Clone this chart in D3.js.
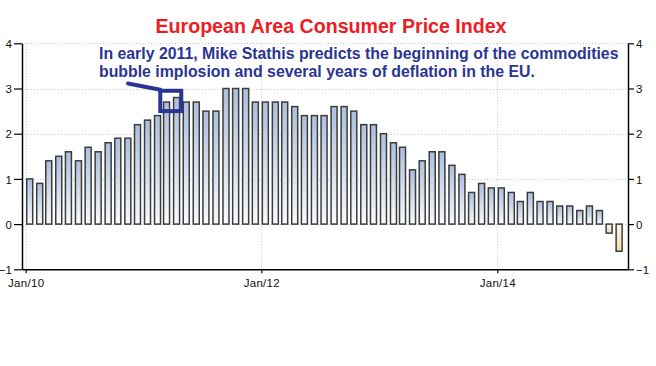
<!DOCTYPE html>
<html>
<head>
<meta charset="utf-8">
<script src="https://cdn.jsdelivr.net/npm/d3@7"></script>
<style>
  html, body { margin: 0; padding: 0; background: #fff; }
  svg { display: block; }
</style>
</head>
<body>
<svg id="chart" width="656" height="366"></svg>
<script>
// ---- data ----
const startMonth = "2010-01";
const cpiValues = [
  1.0, 0.9, 1.4, 1.5, 1.6, 1.4, 1.7, 1.6, 1.8, 1.9, 1.9, 2.2,   // 2010
  2.3, 2.4, 2.7, 2.8, 2.7, 2.7, 2.5, 2.5, 3.0, 3.0, 3.0, 2.7,   // 2011
  2.7, 2.7, 2.7, 2.6, 2.4, 2.4, 2.4, 2.6, 2.6, 2.5, 2.2, 2.2,   // 2012
  2.0, 1.8, 1.7, 1.2, 1.4, 1.6, 1.6, 1.3, 1.1, 0.7, 0.9, 0.8,   // 2013
  0.8, 0.7, 0.5, 0.7, 0.5, 0.5, 0.4, 0.4, 0.3, 0.4, 0.3, -0.2,  // 2014
  -0.6                                                          // 2015
];
const yTicks = [-1, 0, 1, 2, 3, 4];
const xTickDates = ["2010-01-01", "2012-01-01", "2014-01-01"];
const xTickLabels = ["Jan/10", "Jan/12", "Jan/14"];
const titleText = "European Area Consumer Price Index";
const noteLines = [
  "In early 2011, Mike Stathis predicts the beginning of the commodities",
  "bubble implosion and several years of deflation in the EU."
];
const highlightMonths = ["2011-03-01", "2011-05-01"];
const highlightRange = [2.5, 2.95];

// ---- build ----
(function () {
const parse = d3.utcParse("%Y-%m-%d");
const start = parse(startMonth + "-01");
const data = cpiValues.map((v, i) => ({ date: d3.utcMonth.offset(start, i), value: v }));

const svg = d3.select("#chart");
const pL = 22, pR = 628, pT = 43.3, pB = 269.3;

const anchor = d3.scaleUtc().domain([parse(xTickDates[0]), parse(xTickDates[2])]).range([25.7, 497.3]);
const x = d3.scaleUtc().domain([anchor.invert(pL), anchor.invert(pR)]).range([pL, pR]);
const y = d3.scaleLinear().domain([-1, 4]).range([pB, pT]);

const defs = svg.append("defs");
const gPos = defs.append("linearGradient").attr("id", "gPos").attr("x1", 0).attr("y1", 0).attr("x2", 0).attr("y2", 1);
gPos.append("stop").attr("offset", "0%").attr("stop-color", "#acc0dc");
gPos.append("stop").attr("offset", "100%").attr("stop-color", "#f8fafd");
const gNeg = defs.append("linearGradient").attr("id", "gNeg").attr("x1", 0).attr("y1", 0).attr("x2", 0).attr("y2", 1);
gNeg.append("stop").attr("offset", "0%").attr("stop-color", "#fdf6ea");
gNeg.append("stop").attr("offset", "100%").attr("stop-color", "#f6dcb0");

const grid = svg.append("g").attr("stroke", "#c8c8c8").attr("stroke-width", 1).attr("stroke-dasharray", "1,2");
grid.selectAll("line.h").data(yTicks.filter(t => t > -1)).join("line")
  .attr("x1", pL).attr("x2", pR)
  .attr("y1", d => Math.round(y(d)) + 0.5).attr("y2", d => Math.round(y(d)) + 0.5);
grid.selectAll("line.v").data(xTickDates).join("line")
  .attr("x1", d => Math.round(x(parse(d))) + 0.5).attr("x2", d => Math.round(x(parse(d))) + 0.5)
  .attr("y1", pT).attr("y2", pB);

svg.append("g").selectAll("rect").data(data).join("rect")
  .attr("x", d => x(d.date) + 1)
  .attr("width", 6)
  .attr("y", d => y(Math.max(0, d.value)))
  .attr("height", d => Math.abs(y(d.value) - y(0)))
  .attr("fill", d => d.value >= 0 ? "url(#gPos)" : "url(#gNeg)")
  .attr("stroke", "#3c3c3c")
  .attr("stroke-width", 1.5);

const fontAxis = "Liberation Sans, Arial, sans-serif";
const yl = svg.append("g").attr("transform", `translate(${pL},0)`)
  .call(d3.axisLeft(y).tickValues(yTicks).tickSize(8).tickSizeOuter(0).tickFormat(d3.format("d")));
const yr = svg.append("g").attr("transform", `translate(${pR},0)`)
  .call(d3.axisRight(y).tickValues(yTicks).tickSize(6).tickSizeOuter(0).tickFormat(d3.format("d")));
const xb = svg.append("g").attr("transform", `translate(0,${pB})`)
  .call(d3.axisBottom(x).tickValues(xTickDates.map(parse)).tickSize(4).tickSizeOuter(0)
    .tickFormat((d, i) => xTickLabels[i]));
[yl, yr, xb].forEach(g => {
  g.select(".domain").attr("stroke", "#000").attr("stroke-width", 1.5);
  g.selectAll(".tick line").attr("stroke", "#000").attr("stroke-width", 1.2);
  g.selectAll("text").attr("fill", "#111").style("font-family", fontAxis).style("font-size", "11.5px");
});
yl.selectAll("text").attr("x", -10).attr("dy", "0.36em");
yr.selectAll("text").attr("x", 8).attr("dy", "0.36em");
xb.selectAll("text").attr("y", 10).style("letter-spacing", "0.3px");

svg.append("text").attr("x", 331).attr("y", 33)
  .attr("text-anchor", "middle")
  .style("font-family", "Liberation Sans, Arial, sans-serif")
  .style("font-weight", "bold").style("font-size", "19.6px")
  .attr("fill", "#ee1c25").text(titleText);

const note = svg.append("text")
  .style("font-family", "Liberation Sans, Arial, sans-serif")
  .style("font-weight", "bold").style("font-size", "15.85px")
  .attr("fill", "#2b3592");
note.selectAll("tspan").data(noteLines).join("tspan")
  .attr("x", 99).attr("y", (d, i) => 59 + i * 18).text(d => d);

const hx0 = x(parse(highlightMonths[0])) - 2.3;
const hx1 = x(parse(highlightMonths[1])) - 1;
const hy0 = y(highlightRange[1]);
const hy1 = y(highlightRange[0]);
svg.append("rect").attr("x", hx0).attr("y", hy0).attr("width", hx1 - hx0).attr("height", hy1 - hy0)
  .attr("fill", "none").attr("stroke", "#283593").attr("stroke-width", 4);
svg.append("line").attr("x1", 128).attr("y1", 83.5).attr("x2", hx0).attr("y2", hy0 - 1)
  .attr("stroke", "#283593").attr("stroke-width", 4).attr("stroke-linecap", "round");
})();
</script>
</body>
</html>
